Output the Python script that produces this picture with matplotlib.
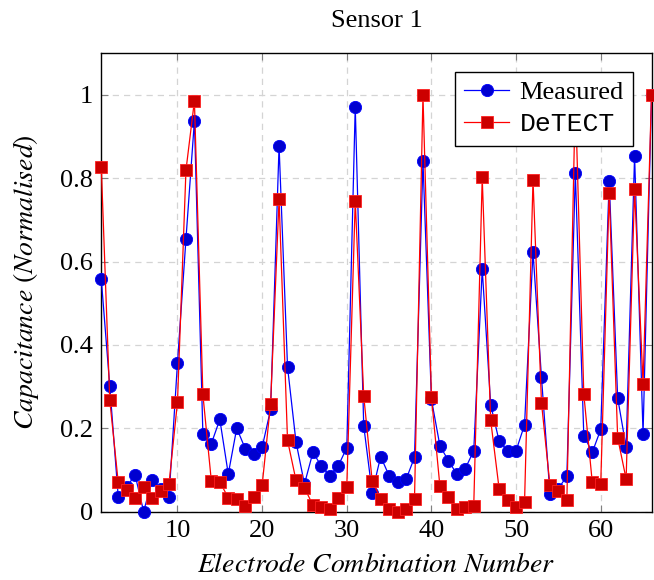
import matplotlib
matplotlib.use('Agg')
import matplotlib.pyplot as plt

# electrode combination number (1..66)
combination = list(range(1, 67))

measured = [0.557, 0.301, 0.035, 0.060, 0.087, 0.000, 0.075, 0.055, 0.035, 0.357,
            0.654, 0.938, 0.186, 0.163, 0.221, 0.090, 0.200, 0.151, 0.139, 0.154,
            0.245, 0.878, 0.347, 0.167, 0.066, 0.142, 0.109, 0.086, 0.110, 0.153,
            0.972, 0.206, 0.045, 0.132, 0.086, 0.071, 0.077, 0.130, 0.841, 0.269,
            0.158, 0.122, 0.090, 0.103, 0.146, 0.582, 0.256, 0.169, 0.146, 0.146,
            0.208, 0.623, 0.322, 0.043, 0.055, 0.085, 0.813, 0.182, 0.142, 0.197,
            0.794, 0.273, 0.154, 0.854, 0.186, 1.000]

detect = [0.826, 0.267, 0.070, 0.051, 0.032, 0.058, 0.032, 0.050, 0.067, 0.263,
          0.819, 0.986, 0.281, 0.073, 0.071, 0.033, 0.029, 0.014, 0.034, 0.063,
          0.259, 0.750, 0.171, 0.075, 0.057, 0.015, 0.011, 0.006, 0.033, 0.059,
          0.746, 0.278, 0.073, 0.031, 0.005, 0.000, 0.005, 0.030, 0.999, 0.275,
          0.061, 0.035, 0.007, 0.010, 0.014, 0.802, 0.219, 0.054, 0.027, 0.010,
          0.022, 0.796, 0.261, 0.064, 0.049, 0.027, 1.000, 0.282, 0.070, 0.066,
          0.765, 0.177, 0.078, 0.774, 0.306, 1.000]

x_ticks = [10, 20, 30, 40, 50, 60]
y_ticks = [0, 0.2, 0.4, 0.6, 0.8, 1]
y_tick_labels = ['0', '0.2', '0.4', '0.6', '0.8', '1']

plt.rcParams['font.family'] = ['Liberation Serif', 'DejaVu Serif']
plt.rcParams['mathtext.fontset'] = 'stix'
FS = 19

fig = plt.figure(figsize=(6.54, 5.8), dpi=100)
ax = fig.add_axes([0.1549, 0.1181, 0.8413, 0.7900])

ax.plot(combination, measured, color='#0000ff', lw=0.9, marker='o', ms=8.8,
        mfc='#0000d0', mec='#0000ff', mew=0.6, clip_on=False, zorder=3,
        label='Measured')
ax.plot(combination, detect, color='#ff0000', lw=0.9, marker='s', ms=8.5,
        mfc='#cc0000', mec='#ff2020', mew=0.6, clip_on=False, zorder=4,
        label='DeTECT')

ax.set_xlim(1, 66)
ax.set_ylim(0, 1.1)
ax.set_xticks(x_ticks)
ax.set_yticks(y_ticks)
ax.set_yticklabels(y_tick_labels)
ax.tick_params(direction='in', length=5, color='#808080', labelsize=FS,
               top=True, right=True, pad=6)
ax.grid(True, color='#d4d4d4', lw=0.9, ls=(0, (5, 4)))
ax.set_axisbelow(True)
for s in ax.spines.values():
    s.set_linewidth(1.0)

ax.set_title('Sensor 1', fontsize=FS, pad=19)
ax.set_xlabel(r'$Electrode\ Combination\ Number$', fontsize=FS + 1, labelpad=8)
ax.set_ylabel(r'$Capacitance\ (Normalised)$', fontsize=FS + 1, labelpad=14)

leg = ax.legend(loc='upper right', fontsize=FS, fancybox=False, framealpha=1,
                edgecolor='black', handlelength=1.7, handletextpad=0.4,
                borderaxespad=0.7, borderpad=0.35, labelspacing=0.3)
leg.get_frame().set_linewidth(1.0)
leg.set_zorder(10)
leg.get_texts()[1].set_family(['Liberation Mono', 'DejaVu Sans Mono'])

fig.savefig('out.png', dpi=100)
